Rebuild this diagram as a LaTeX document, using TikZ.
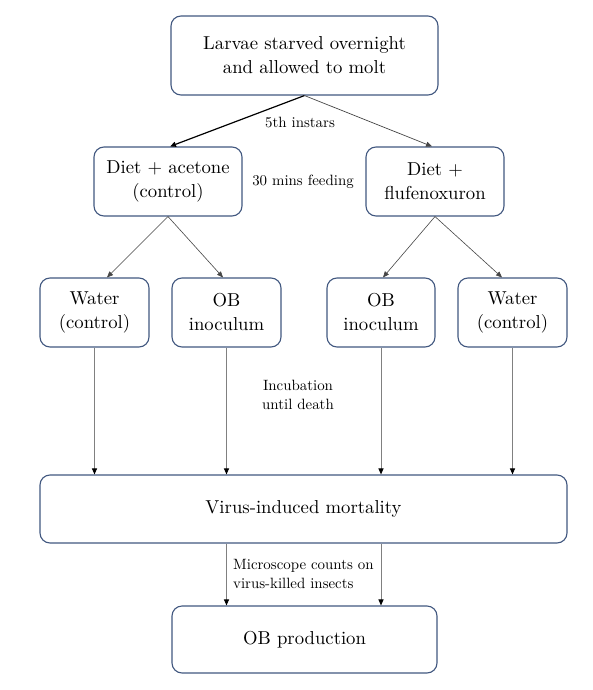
\documentclass[tikz,border=0pt]{standalone}
\usepackage{fontspec}
\setmainfont{lmroman10-regular}[Extension=.otf]
\usetikzlibrary{arrows.meta}
\definecolor{boxborder}{RGB}{66,88,128}
\definecolor{linegray}{RGB}{128,128,128}
\definecolor{darkline}{RGB}{70,70,70}
\begin{document}
\begin{tikzpicture}[x=1pt,y=-1pt,
  box/.style={draw=boxborder, line width=1.1pt, rounded corners=10pt, fill=white,
    align=center, inner sep=2pt, font=\fontsize{18.7}{24}\selectfont},
  lbl/.style={font=\fontsize{14.9}{19}\selectfont, inner sep=0pt},
  tip/.style={-{Triangle[length=6pt,width=5pt]}},
  thickarrow/.style={tip, black, line width=1.2pt},
  thinarrow/.style={tip, darkline, line width=0.6pt},
  vline/.style={-{Triangle[length=6pt,width=5pt,color=black]}, linegray, line width=1pt}
]
\useasboundingbox (0,0) rectangle (592,690);
\fill[white] (0,0) rectangle (592,690);

\node[box, minimum width=267pt, minimum height=79pt] (top) at (304.5,55.5) {Larvae starved overnight\\and allowed to molt};
\node[box, minimum width=148pt, minimum height=69pt] (dietA) at (168,181.5) {Diet + acetone\\(control)};
\node[box, minimum width=138pt, minimum height=69pt] (dietF) at (435,181.5) {Diet +\\flufenoxuron};
\node[box, minimum width=109pt, minimum height=69pt] (waterL) at (94.5,312.5) {Water\\(control)};
\node[box, minimum width=109pt, minimum height=69pt] (obL) at (226.5,312.5) {OB\\inoculum};
\node[box, minimum width=108pt, minimum height=69pt] (obR) at (381,312.5) {OB\\inoculum};
\node[box, minimum width=109pt, minimum height=69pt] (waterR) at (512.5,312.5) {Water\\(control)};
\node[box, minimum width=527pt, minimum height=68pt] (mort) at (303.5,509) {Virus-induced mortality};
\node[box, minimum width=265pt, minimum height=67pt] (prod) at (304.5,639.5) {OB production};

\node[lbl] (l1) at (300,122) {5th instars};
\node[lbl] (l2) at (303,182) {30 mins feeding};
\node[lbl, align=center] (l3) at (298,395) {Incubation\\until death};
\node[lbl, align=left, anchor=west] (l4) at (233,574) {Microscope counts on\\virus-killed insects};

\draw[thickarrow] (top.south) -- ([xshift=2pt]dietA.north);
\draw[tip, darkline, line width=0.7pt] (top.south) -- ([xshift=-3pt]dietF.north);

\draw[thinarrow] (dietA.south) -- ([xshift=12.5pt]waterL.north);
\draw[thinarrow] (dietA.south) -- ([xshift=-3.5pt]obL.north);
\draw[thinarrow] (dietF.south) -- ([xshift=2pt]obR.north);
\draw[thinarrow] (dietF.south) -- ([xshift=-10.5pt]waterR.north);

\draw[vline] (waterL.south) -- (waterL.south |- mort.north);
\draw[vline] (obL.south) -- (obL.south |- mort.north);
\draw[vline] (obR.south) -- (obR.south |- mort.north);
\draw[vline] (waterR.south) -- (waterR.south |- mort.north);

\draw[vline] (obL.south |- mort.south) -- (obL.south |- prod.north);
\draw[vline] (obR.south |- mort.south) -- (obR.south |- prod.north);
\end{tikzpicture}
\end{document}
